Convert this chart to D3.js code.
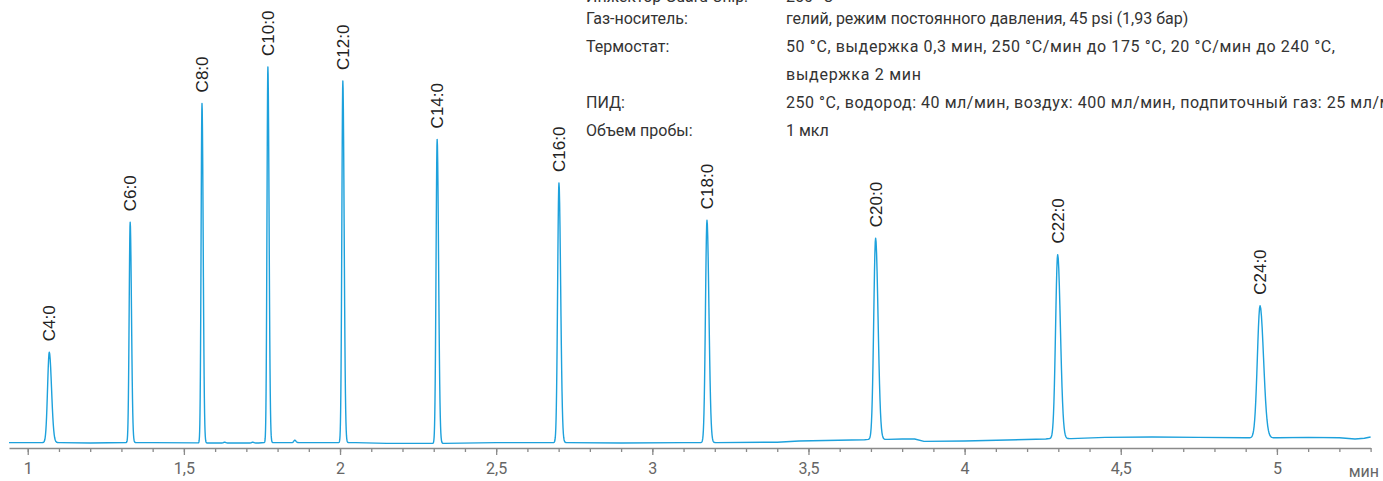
<!DOCTYPE html>
<html>
<head>
<meta charset="utf-8">
<script src="https://cdn.jsdelivr.net/npm/d3@7"></script>
<style>
  body { margin: 0; background: #fff; overflow: hidden; }
  .info { font-family: Roboto, sans-serif; font-size: 16px; fill: #333; }
  .peak-label { font-family: "Liberation Sans", Arial, sans-serif; font-size: 17px; fill: #222; }
  .axis text { font-family: Roboto, sans-serif; font-size: 16px; fill: #666; }
  .axis path, .axis line { stroke: #8a8a8a; stroke-width: 1.3; }
</style>
</head>
<body>
<svg id="chart" width="1383" height="481"></svg>
<script>
// пики (время удерживания, мин; высота над базовой линией; ширина сигма, мин)
var peakNames   = ["C4:0", "C6:0", "C8:0", "C10:0", "C12:0", "C14:0", "C16:0", "C18:0", "C20:0", "C22:0", "C24:0"];
var peakTimes   = [1.069, 1.328, 1.558, 1.769, 2.009, 2.311, 2.701, 3.175, 3.715, 4.298, 4.946];
var peakHeights = [22.6, 55.1, 84.9, 93.9, 90.4, 76.0, 64.9, 55.6, 50.3, 46.0, 33.0];
var peakWidths  = [0.0055, 0.0032, 0.0029, 0.0029, 0.0032, 0.0035, 0.0042, 0.0048, 0.0060, 0.0067, 0.0086];
var peakBase    = [0.1, 0.1, 0.0, 0.1, 0.1, -0.1, 0.1, 0.1, 0.9, 1.1, 1.3];

// мелкие всплески без подписи
var bumpTimes   = [1.63, 1.72, 1.855];
var bumpHeights = [0.2, 0.2, 0.6];
var bumpWidths  = [0.003, 0.003, 0.003];
var bumpBase    = [0.0, 0.0, 0.1];

// базовая линия (мин, сигнал)
var baseTimes  = [0.94, 1.00, 1.20, 1.40, 1.62, 1.80, 2.05, 2.15, 2.28, 2.50, 2.90, 3.10, 3.40, 3.47, 3.68, 3.80, 3.84, 3.87, 4.00, 4.26, 4.33, 4.45, 4.60, 4.75, 4.90, 4.99, 5.10, 5.20, 5.25, 5.28, 5.30];
var baseValues = [0.1, 0.1, 0.0, 0.1, 0.0, 0.1, 0.1, -0.1, -0.1, 0.1, 0.0, 0.1, 0.2, 0.5, 0.8, 1.0, 1.0, 0.4, 0.5, 1.0, 1.4, 1.4, 1.5, 1.4, 1.3, 1.4, 1.4, 1.3, 1.0, 1.2, 1.5];

var majorTicks = [1, 1.5, 2, 2.5, 3, 3.5, 4, 4.5, 5];

var infoLabels = ["Инжектор Guard Chip:", "Газ-носитель:", "Термостат:", "", "ПИД:", "Объем пробы:"];
var infoValues = ["250 °C",
                  "гелий, режим постоянного давления, 45 psi (1,93 бар)",
                  "50 °C, выдержка 0,3 мин, 250 °C/мин до 175 °C, 20 °C/мин до 240 °C,",
                  "выдержка 2 мин",
                  "250 °C, водород: 40 мл/мин, воздух: 400 мл/мин, подпиточный газ: 25 мл/мин",
                  "1 мкл"];
var infoLines  = [2, 24, 52, 80, 108, 136];
var infoWidths = [null, null, 549, 135, 625, null];

var svg = d3.select("#chart");

var x = d3.scaleLinear().domain([0.94, 5.30]).range([9, 1370.6]);
var y = d3.scaleLinear().domain([0, 100]).range([443, 43]);

// собираем точки кривой
var points = [];
function addPeak(t, h, w, b) {
    for (var k = -4; k <= 5.001; k += 0.2) {
        var s = k < 0 ? w : w * 1.3;
        points.push([t + k * s, b + h * Math.exp(-k * k / 2)]);
    }
}
peakTimes.forEach(function(t, i){ addPeak(t, peakHeights[i], peakWidths[i], peakBase[i]); });
bumpTimes.forEach(function(t, i){ addPeak(t, bumpHeights[i], bumpWidths[i], bumpBase[i]); });

baseTimes.forEach(function(t, i){
    var inside = peakTimes.some(function(p, j){ return t > p - 4 * peakWidths[j] && t < p + 6.5 * peakWidths[j]; })
        || bumpTimes.some(function(p, j){ return t > p - 4 * bumpWidths[j] && t < p + 6.5 * bumpWidths[j]; });
    if (!inside) points.push([t, baseValues[i]]);
});
points.sort(function(a, b){ return a[0] - b[0]; });

var line = d3.line()
    .x(function(d){ return x(d[0]); })
    .y(function(d){ return y(d[1]); });

svg.append("path")
    .datum(points)
    .attr("d", line)
    .attr("fill", "none")
    .attr("stroke", "#1da1dc")
    .attr("stroke-width", 1.4)
    .attr("stroke-linejoin", "round");

// подписи пиков
svg.selectAll(".peak-label")
    .data(peakNames)
    .enter()
    .append("text")
    .attr("class", "peak-label")
    .attr("transform", function(d, i){
        var px = x(peakTimes[i]) + 6;
        var py = y(peakBase[i] + peakHeights[i]) - 11;
        return "translate(" + px + "," + py + ") rotate(-90)";
    })
    .text(function(d){ return d; });

// ось
var minorTicks = d3.range(10, 54).map(function(v){ return v / 10; });

var axisMinor = d3.axisBottom(x)
    .tickValues(minorTicks)
    .tickSize(4)
    .tickSizeOuter(0)
    .tickFormat("");

var axisMajor = d3.axisBottom(x)
    .tickValues(majorTicks)
    .tickSize(7)
    .tickPadding(8)
    .tickSizeOuter(0)
    .tickFormat(function(d){ return String(d).replace(".", ","); });

svg.append("g")
    .attr("class", "axis")
    .attr("transform", "translate(0,448)")
    .call(axisMinor);

var gMajor = svg.append("g")
    .attr("class", "axis")
    .attr("transform", "translate(0,448)")
    .call(axisMajor);
gMajor.select(".domain").remove();

svg.append("text")
    .attr("x", 1379)
    .attr("y", 477)
    .attr("text-anchor", "end")
    .style("font-family", "Roboto, sans-serif")
    .style("font-size", "16px")
    .style("fill", "#666")
    .text("мин");

// блок условий
var info = svg.append("g");
infoLines.forEach(function(yy, i){
    info.append("text").attr("class", "info").attr("x", 586).attr("y", yy).text(infoLabels[i]);
    var v = info.append("text").attr("class", "info").attr("x", 786).attr("y", yy).text(infoValues[i]);
    if (infoWidths[i]) v.attr("textLength", infoWidths[i]).attr("lengthAdjust", "spacing");
});
</script>
</body>
</html>
